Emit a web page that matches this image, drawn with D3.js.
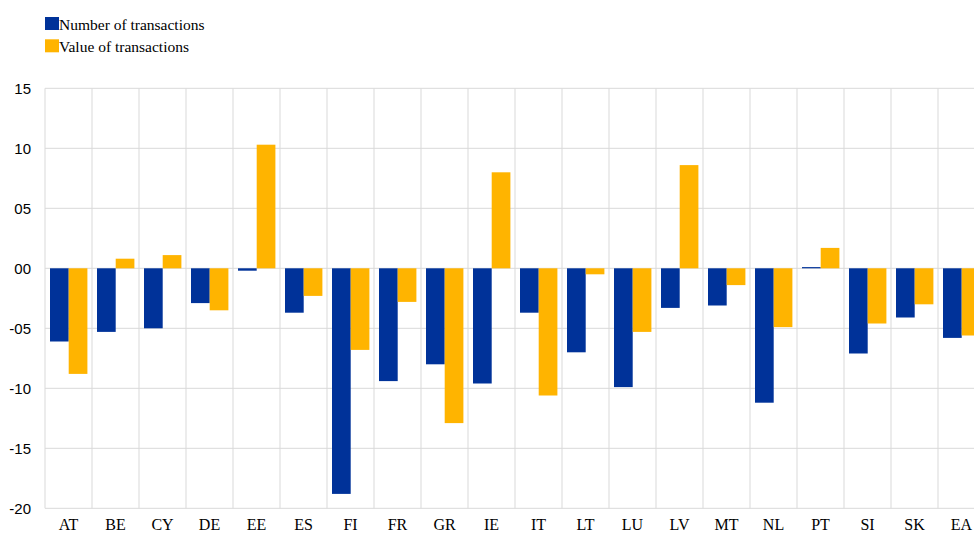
<!DOCTYPE html>
<html>
<head>
<meta charset="utf-8">
<script src="https://cdn.jsdelivr.net/npm/d3@7"></script>
<style>
  body { margin: 0; background: #fff; }
  svg { display: block; }
</style>
</head>
<body>
<div id="chart"></div>
<script>
const countries = ["AT", "BE", "CY", "DE", "EE", "ES", "FI", "FR", "GR", "IE",
                   "IT", "LT", "LU", "LV", "MT", "NL", "PT", "SI", "SK", "EA"];
const numberOfTransactions = [-6.1, -5.3, -5.0, -2.9, -0.2, -3.7, -18.8, -9.4, -8.0, -9.6,
                              -3.7, -7.0, -9.9, -3.3, -3.1, -11.2, 0.1, -7.1, -4.1, -5.8];
const valueOfTransactions = [-8.8, 0.8, 1.1, -3.5, 10.3, -2.3, -6.8, -2.8, -12.9, 8.0,
                             -10.6, -0.5, -5.3, 8.6, -1.4, -4.9, 1.7, -4.6, -3.0, -5.6];
const yTicks = [15, 10, 5, 0, -5, -10, -15, -20];
const seriesNames = ["Number of transactions", "Value of transactions"];
const seriesColors = ["#003299", "#ffb400"];

const width = 974, height = 534;
const plotLeft = 45, plotTop = 88.3, plotBottom = 508.3;
const bandStep = 47;

const svg = d3.select("#chart").append("svg")
    .attr("width", width)
    .attr("height", height);

// Scales
const y = d3.scaleLinear()
    .domain([-20, 15])
    .range([plotBottom, plotTop]);

const x0 = d3.scaleBand()
    .domain(countries)
    .range([plotLeft, plotLeft + bandStep * countries.length])
    .padding(0);

const x1 = d3.scaleBand()
    .domain(seriesNames)
    .range([5, 42.4])
    .padding(0);

const fmt = d => (d < 0 ? "-" : "") + String(Math.abs(d)).padStart(2, "0");

// Horizontal gridlines
svg.append("g")
    .selectAll("line")
    .data(yTicks)
    .enter().append("line")
    .attr("x1", plotLeft)
    .attr("x2", width)
    .attr("y1", d => y(d))
    .attr("y2", d => y(d))
    .attr("stroke", "#d9d9d9")
    .attr("stroke-width", 1);

// Vertical gridlines (band boundaries)
svg.append("g")
    .selectAll("line")
    .data(countries)
    .enter().append("line")
    .attr("x1", d => x0(d))
    .attr("x2", d => x0(d))
    .attr("y1", y(15))
    .attr("y2", y(-20))
    .attr("stroke", "#d9d9d9")
    .attr("stroke-width", 1);

// Y axis labels
svg.append("g")
    .attr("transform", `translate(31,0)`)
    .call(d3.axisLeft(y).tickValues(yTicks).tickFormat(fmt).tickSize(0).tickPadding(0))
    .call(g => g.select(".domain").remove())
    .selectAll("text")
    .attr("dy", "0.35em")
    .style("font-family", "Liberation Sans, Arial, sans-serif")
    .style("font-size", "15px")
    .style("fill", "#000");

// X axis labels
svg.append("g")
    .attr("transform", `translate(0,${plotBottom})`)
    .call(d3.axisBottom(x0).tickSize(0).tickPadding(0))
    .call(g => g.select(".domain").remove())
    .selectAll("text")
    .attr("y", 22)
    .attr("dy", 0)
    .style("font-family", "Liberation Serif, Times New Roman, serif")
    .style("font-size", "16px")
    .style("fill", "#000");

// Bars
const rows = countries.map((c, i) => ({
    country: c,
    values: [numberOfTransactions[i], valueOfTransactions[i]]
}));

const groups = svg.append("g")
    .selectAll("g")
    .data(rows)
    .enter().append("g")
    .attr("transform", d => `translate(${x0(d.country)},0)`);

groups.selectAll("rect")
    .data(d => d.values.map((v, i) => ({ series: seriesNames[i], value: v, color: seriesColors[i] })))
    .enter().append("rect")
    .attr("x", d => x1(d.series))
    .attr("width", x1.bandwidth())
    .attr("y", d => y(Math.max(0, d.value)))
    .attr("height", d => Math.abs(y(d.value) - y(0)))
    .attr("fill", d => d.color);

// Legend
const legend = svg.append("g")
    .selectAll("g")
    .data(seriesNames)
    .enter().append("g")
    .attr("transform", (d, i) => `translate(45,${17 + i * 22.3})`);

legend.append("rect")
    .attr("width", 14)
    .attr("height", 13)
    .attr("fill", (d, i) => seriesColors[i]);

legend.append("text")
    .attr("x", 14)
    .attr("y", 12.5)
    .text(d => d)
    .style("font-family", "Liberation Serif, Times New Roman, serif")
    .style("font-size", "15.5px")
    .style("fill", "#000");
</script>
</body>
</html>
